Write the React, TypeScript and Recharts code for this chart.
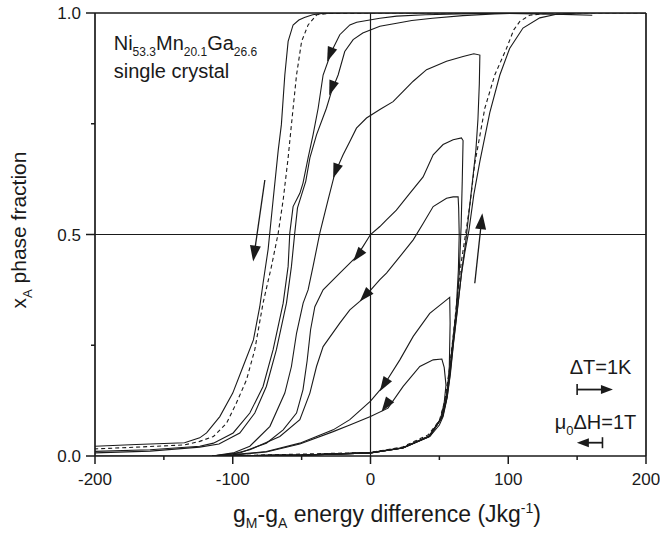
import React from 'react';
import { LineChart, Line, XAxis, YAxis, ReferenceLine, ReferenceDot } from 'recharts';

const INK = '#1a1a1a';
const FONT = '"Liberation Sans", Arial, Helvetica, sans-serif';

// axis ticks
const xTicks = [-200, -150, -100, -50, 0, 50, 100, 150, 200];
const xLabelled = [-200, -100, 0, 100, 200];
const yTicks = [0, 0.25, 0.5, 0.75, 1];
const yLabelled = [0, 0.5, 1];

// outer loop, cooling branch (solid, left)
const outerCoolX = [161, 140, 120, 100, 60, 20, 0, -20, -35, -42, -48, -52, -56.2, -59.8, -62.2, -64.7, -67, -70.7, -74.3, -78, -80.4, -85, -92.5, -100, -109.4, -119, -124, -135, -170, -200];
const outerCoolY = [0.995, 0.997, 0.998, 0.999, 1, 1, 1, 1, 0.999, 0.996, 0.99, 0.984, 0.973, 0.936, 0.86, 0.748, 0.69, 0.578, 0.467, 0.39, 0.337, 0.262, 0.202, 0.142, 0.089, 0.052, 0.041, 0.03, 0.026, 0.022];

// outer loop, heating branch (solid, right)
const outerHeatX = [-200, -110, -50, 0, 23.7, 43, 50, 52.7, 55.5, 57.6, 60, 63, 66, 68.5, 71.5, 75, 79.4, 86.6, 93.9, 101, 110.7, 122.9, 135, 150, 200];
const outerHeatY = [0, 0, 0.002, 0.007, 0.018, 0.044, 0.07, 0.089, 0.13, 0.18, 0.25, 0.33, 0.41, 0.46, 0.51, 0.59, 0.665, 0.775, 0.86, 0.92, 0.966, 0.989, 0.997, 1, 1];

// model curves (dashed)
const modelHeatX = [-110, 0, 23, 42, 50, 54, 57, 60, 63, 66, 69, 72.5, 75.7, 83, 90.2, 98.7, 104, 108.4, 115.6, 130, 200];
const modelHeatY = [0, 0.008, 0.02, 0.048, 0.08, 0.125, 0.19, 0.27, 0.36, 0.44, 0.5, 0.575, 0.66, 0.785, 0.86, 0.92, 0.962, 0.981, 0.995, 1, 1];
const modelCoolX = [100, 0, -30, -39, -45.3, -50, -53.7, -57.4, -59.8, -63.4, -67, -71.9, -78, -84, -90, -97.3, -104.5, -114, -124, -135, -170, -200];
const modelCoolY = [1, 1, 0.999, 0.996, 0.973, 0.936, 0.86, 0.748, 0.673, 0.578, 0.503, 0.428, 0.345, 0.24, 0.172, 0.12, 0.074, 0.044, 0.033, 0.025, 0.02, 0.016];

// reversal curves starting near full austenite
const revCX = [130, 80, 40, 19, 6.8, -10, -15, -22.3, -28.3, -34.4, -38, -41.7, -45.3, -49, -51.3, -56.2, -58.6, -59.8, -63.4, -70.7, -78, -87.6, -99.7, -114, -124, -160, -200];
const revCY = [1, 0.999, 0.996, 0.993, 0.988, 0.979, 0.973, 0.951, 0.913, 0.86, 0.785, 0.725, 0.673, 0.616, 0.593, 0.563, 0.503, 0.428, 0.345, 0.24, 0.157, 0.097, 0.052, 0.029, 0.022, 0.014, 0.0104];
const revDX = [110, 90, 67, 45, 30, 19, 6.8, -5.6, -12.6, -18.7, -23.5, -28.3, -32, -39.2, -44, -47, -50, -53, -55, -57.4, -61, -68.3, -75.6, -84, -94.9, -110, -124, -160, -200];
const revDY = [1, 0.998, 0.994, 0.988, 0.983, 0.977, 0.97, 0.955, 0.94, 0.913, 0.86, 0.823, 0.785, 0.725, 0.673, 0.62, 0.59, 0.56, 0.503, 0.428, 0.345, 0.24, 0.157, 0.097, 0.052, 0.027, 0.02, 0.011, 0.007];

// partial loops (hooks)
const hook1X = [-115, -50, 0, 24, 43.5, 52.5, 55.8, 58, 60.3, 63.3, 66.3, 69, 71.5, 74, 76.5, 78, 79, 79.4, 75, 67.2, 55.2, 40.7, 31, 23.7, 16.4, 6.8, -2.9, -10.2, -15, -19.9, -25.9, -30.8, -36.8, -41.7, -45.3, -48.9, -53.7, -57.4, -62.2, -73, -87.6, -99.7, -115];
const hook1Y = [0, 0.002, 0.008, 0.019, 0.046, 0.09, 0.135, 0.185, 0.255, 0.335, 0.42, 0.48, 0.55, 0.62, 0.69, 0.76, 0.84, 0.905, 0.908, 0.902, 0.891, 0.872, 0.846, 0.823, 0.8, 0.782, 0.763, 0.74, 0.71, 0.68, 0.638, 0.578, 0.503, 0.428, 0.375, 0.345, 0.277, 0.202, 0.142, 0.067, 0.022, 0.007, 0];
const hook2X = [-115, -50, 0, 23.5, 42.5, 52, 55.2, 57.3, 59.7, 62.6, 64.5, 65.8, 66.6, 67.2, 66, 60, 52.7, 45.5, 38.2, 28.5, 18.8, 11.6, 6.8, 0, -5.6, -10.2, -22.3, -34.4, -40.4, -43.5, -46, -49, -53.7, -63.4, -75.6, -94.9, -115];
const hook2Y = [0, 0.002, 0.007, 0.018, 0.044, 0.088, 0.13, 0.18, 0.25, 0.33, 0.42, 0.52, 0.62, 0.712, 0.718, 0.714, 0.703, 0.68, 0.63, 0.593, 0.555, 0.533, 0.518, 0.5, 0.472, 0.45, 0.413, 0.375, 0.337, 0.285, 0.215, 0.15, 0.097, 0.059, 0.029, 0.007, 0];
const hook3X = [-115, -50, 0, 23, 42, 51.5, 54.8, 57, 59.4, 62.2, 63.8, 64.4, 64, 63.6, 60, 55.2, 45.5, 38.2, 31, 21.3, 11.6, 6.8, -4.1, -7.8, -15, -22.3, -34.4, -39.2, -44, -51.3, -65.8, -87.6, -99.7, -115];
const hook3Y = [0, 0.002, 0.007, 0.018, 0.043, 0.087, 0.13, 0.18, 0.25, 0.33, 0.42, 0.5, 0.56, 0.585, 0.585, 0.582, 0.563, 0.525, 0.488, 0.45, 0.413, 0.398, 0.36, 0.349, 0.33, 0.3, 0.247, 0.202, 0.142, 0.082, 0.044, 0.014, 0.005, 0];
const hook4X = [-115, -50, 0, 23.5, 43, 52.3, 55.5, 57.2, 57.8, 57.5, 55, 43, 31, 21.3, 9.1, 0, -15, -27.1, -51.3, -75.6, -99.7, -115];
const hook4Y = [0, 0.002, 0.007, 0.018, 0.045, 0.09, 0.135, 0.2, 0.3, 0.358, 0.352, 0.322, 0.27, 0.217, 0.157, 0.124, 0.082, 0.059, 0.029, 0.01, 0.003, 0];
const hook5X = [-115, -50, 0, 23, 42.5, 50.5, 53.5, 54.8, 53.5, 51.8, 45.5, 35.8, 23.7, 12.7, 0, -15, -27.1, -51.3, -75.6, -99.7, -115];
const hook5Y = [0, 0.002, 0.007, 0.018, 0.045, 0.08, 0.12, 0.16, 0.2, 0.219, 0.217, 0.202, 0.157, 0.108, 0.089, 0.07, 0.055, 0.027, 0.009, 0.002, 0];

// arrow heads sitting on the curves: [fromX, fromY, toX, toY]
const curveArrows: [number, number, number, number][] = [
  [-27.9, 0.919, -31.5, 0.89],
  [-26.7, 0.843, -30, 0.814],
  [-23.8, 0.656, -27.1, 0.627],
  [-5.3, 0.468, -12.6, 0.439],
  [-0.5, 0.374, -7.8, 0.349],
  [12.6, 0.175, 6.8, 0.146],
  [14.5, 0.129, 8, 0.1],
];
// free standing arrows showing the sweep direction
const sweepArrows: [number, number, number, number][] = [
  [-76.7, 0.623, -85.2, 0.439],
  [75.7, 0.39, 81.2, 0.548],
];
// scale bars: dT = 1K and mu0 dH = 1T
const scaleArrows: [number, number, number, number][] = [
  [150, 0.15, 176, 0.15],
  [168.4, 0.03, 149.8, 0.03],
];

const zip = (xs: number[], ys: number[]) => xs.map((x, i) => ({ x, y: ys[i] }));

const curves = [
  { key: 'outerCool', data: zip(outerCoolX, outerCoolY), dashed: false },
  { key: 'outerHeat', data: zip(outerHeatX, outerHeatY), dashed: false },
  { key: 'modelHeat', data: zip(modelHeatX, modelHeatY), dashed: true },
  { key: 'modelCool', data: zip(modelCoolX, modelCoolY), dashed: true },
  { key: 'revC', data: zip(revCX, revCY), dashed: false },
  { key: 'revD', data: zip(revDX, revDY), dashed: false },
  { key: 'hook1', data: zip(hook1X, hook1Y), dashed: false },
  { key: 'hook2', data: zip(hook2X, hook2Y), dashed: false },
  { key: 'hook3', data: zip(hook3X, hook3Y), dashed: false },
  { key: 'hook4', data: zip(hook4X, hook4Y), dashed: false },
  { key: 'hook5', data: zip(hook5X, hook5Y), dashed: false },
];

const Y_TICK = 9;
const Y_GAP = 6;
const X_TICK = 8;
const X_GAP = 4;

const YTick = (props: any) => {
  const { x, y, payload } = props;
  const axisX = x + Y_TICK + Y_GAP;
  const major = yLabelled.includes(payload.value);
  return (
    <g>
      <line x1={axisX - (major ? 9 : 4)} x2={axisX} y1={y} y2={y} stroke={INK} strokeWidth={1.5} />
      {major && (
        <text x={axisX - 14} y={y + 6} textAnchor="end" fontSize={17} fontFamily={FONT} fill={INK}>
          {payload.value.toFixed(1)}
        </text>
      )}
    </g>
  );
};

const XTick = (props: any) => {
  const { x, y, payload } = props;
  const axisY = y - X_TICK - X_GAP;
  const major = xLabelled.includes(payload.value);
  return (
    <g>
      <line x1={x} x2={x} y1={axisY} y2={axisY + (major ? 8 : 4)} stroke={INK} strokeWidth={1.5} />
      {major && (
        <text x={x} y={axisY + 29} textAnchor="middle" fontSize={17} fontFamily={FONT} fill={INK}>
          {String(payload.value)}
        </text>
      )}
    </g>
  );
};

// arrow drawn between two projected data points
const Arrow = (props: any) => {
  const { x1, y1, x2, y2, head = 13, half = 4.5, shaft = true, bar = false, width = 1.3 } = props;
  const dx = x2 - x1;
  const dy = y2 - y1;
  const len = Math.hypot(dx, dy) || 1;
  const ux = dx / len;
  const uy = dy / len;
  const bx = x2 - ux * head;
  const by = y2 - uy * head;
  const px = -uy * half;
  const py = ux * half;
  return (
    <g>
      {shaft && <line x1={x1} y1={y1} x2={bx + ux} y2={by + uy} stroke={INK} strokeWidth={width} />}
      <polygon points={`${x2},${y2} ${bx + px},${by + py} ${bx - px},${by - py}`} fill={INK} />
      {bar && <line x1={x1} y1={y1 - 5.5} x2={x1} y2={y1 + 5.5} stroke={INK} strokeWidth={1.6} />}
    </g>
  );
};

const AlloyLabel = ({ cx, cy }: any) => (
  <text x={cx} y={cy} fontSize={20} fontFamily={FONT} fill={INK}>
    Ni<tspan dy={6} fontSize={12}>53.3</tspan>
    <tspan dy={-6}>Mn</tspan>
    <tspan dy={6} fontSize={12}>20.1</tspan>
    <tspan dy={-6}>Ga</tspan>
    <tspan dy={6} fontSize={12}>26.6</tspan>
  </text>
);

const CrystalLabel = ({ cx, cy }: any) => (
  <text x={cx} y={cy} fontSize={20} fontFamily={FONT} fill={INK}>single crystal</text>
);

const TempLabel = ({ cx, cy }: any) => (
  <text x={cx} y={cy} fontSize={20} fontFamily={FONT} fill={INK}>ΔT=1K</text>
);

const FieldLabel = ({ cx, cy }: any) => (
  <text x={cx} y={cy} fontSize={20} fontFamily={FONT} fill={INK}>
    μ<tspan dy={6} fontSize={13}>0</tspan>
    <tspan dy={-6}>ΔH=1T</tspan>
  </text>
);

export default function App() {
  return (
    <div style={{ position: 'absolute', left: 0, top: 0, width: 660, height: 534, background: '#fff' }}>
      <LineChart width={660} height={534} margin={{ top: 13, right: 14, left: 35, bottom: 38 }}>
        <XAxis
          type="number"
          dataKey="x"
          domain={[-200, 200]}
          ticks={xTicks}
          interval={0}
          allowDataOverflow
          tickSize={X_TICK}
          tickMargin={X_GAP}
          tickLine={false}
          tick={<XTick />}
          axisLine={{ stroke: INK, strokeWidth: 1.7 }}
          height={40}
        />
        <YAxis
          type="number"
          domain={[0, 1]}
          ticks={yTicks}
          interval={0}
          allowDataOverflow
          tickSize={Y_TICK}
          tickMargin={Y_GAP}
          tickLine={false}
          tick={<YTick />}
          axisLine={{ stroke: INK, strokeWidth: 1.7 }}
          width={60}
        />
        <ReferenceLine y={1} stroke={INK} strokeWidth={1.7} />
        <ReferenceLine x={200} stroke={INK} strokeWidth={1.7} />
        <ReferenceLine y={0.5} stroke={INK} strokeWidth={1.2} />
        <ReferenceLine x={0} stroke={INK} strokeWidth={1.2} />
        {curves.map((c) => (
          <Line
            key={c.key}
            data={c.data}
            dataKey="y"
            type="linear"
            stroke={INK}
            strokeWidth={1.1}
            strokeDasharray={c.dashed ? '4 3' : undefined}
            dot={false}
            activeDot={false}
            isAnimationActive={false}
          />
        ))}
        {curveArrows.map((a, i) => (
          <ReferenceLine
            key={`ca${i}`}
            segment={[{ x: a[0], y: a[1] }, { x: a[2], y: a[3] }]}
            shape={(p: any) => <Arrow {...p} shaft={false} head={15} half={5} />}
          />
        ))}
        {sweepArrows.map((a, i) => (
          <ReferenceLine
            key={`sa${i}`}
            segment={[{ x: a[0], y: a[1] }, { x: a[2], y: a[3] }]}
            shape={(p: any) => <Arrow {...p} head={16} half={5.5} />}
          />
        ))}
        {scaleArrows.map((a, i) => (
          <ReferenceLine
            key={`sc${i}`}
            segment={[{ x: a[0], y: a[1] }, { x: a[2], y: a[3] }]}
            shape={(p: any) => <Arrow {...p} bar head={12} half={4.5} width={1.8} />}
          />
        ))}
        <ReferenceDot x={-186.4} y={0.916} r={0} shape={AlloyLabel} />
        <ReferenceDot x={-186.4} y={0.853} r={0} shape={CrystalLabel} />
        <ReferenceDot x={144.6} y={0.1856} r={0} shape={TempLabel} />
        <ReferenceDot x={133.7} y={0.0616} r={0} shape={FieldLabel} />
      </LineChart>
      <svg width={660} height={534} style={{ position: 'absolute', left: 0, top: 0, pointerEvents: 'none' }}>
        <text x={387} y={522} textAnchor="middle" fontSize={23} fontFamily={FONT} fill={INK}>
          g<tspan dy={6} fontSize={14}>M</tspan>
          <tspan dy={-6}>-g</tspan>
          <tspan dy={6} fontSize={14}>A</tspan>
          <tspan dy={-6}> energy difference (Jkg</tspan>
          <tspan dy={-9} fontSize={14}>-1</tspan>
          <tspan dy={9}>)</tspan>
        </text>
        <text transform="translate(26,230) rotate(-90)" textAnchor="middle" fontSize={21} fontFamily={FONT} fill={INK}>
          x<tspan dy={6} fontSize={13}>A</tspan>
          <tspan dy={-6}> phase fraction</tspan>
        </text>
      </svg>
    </div>
  );
}
